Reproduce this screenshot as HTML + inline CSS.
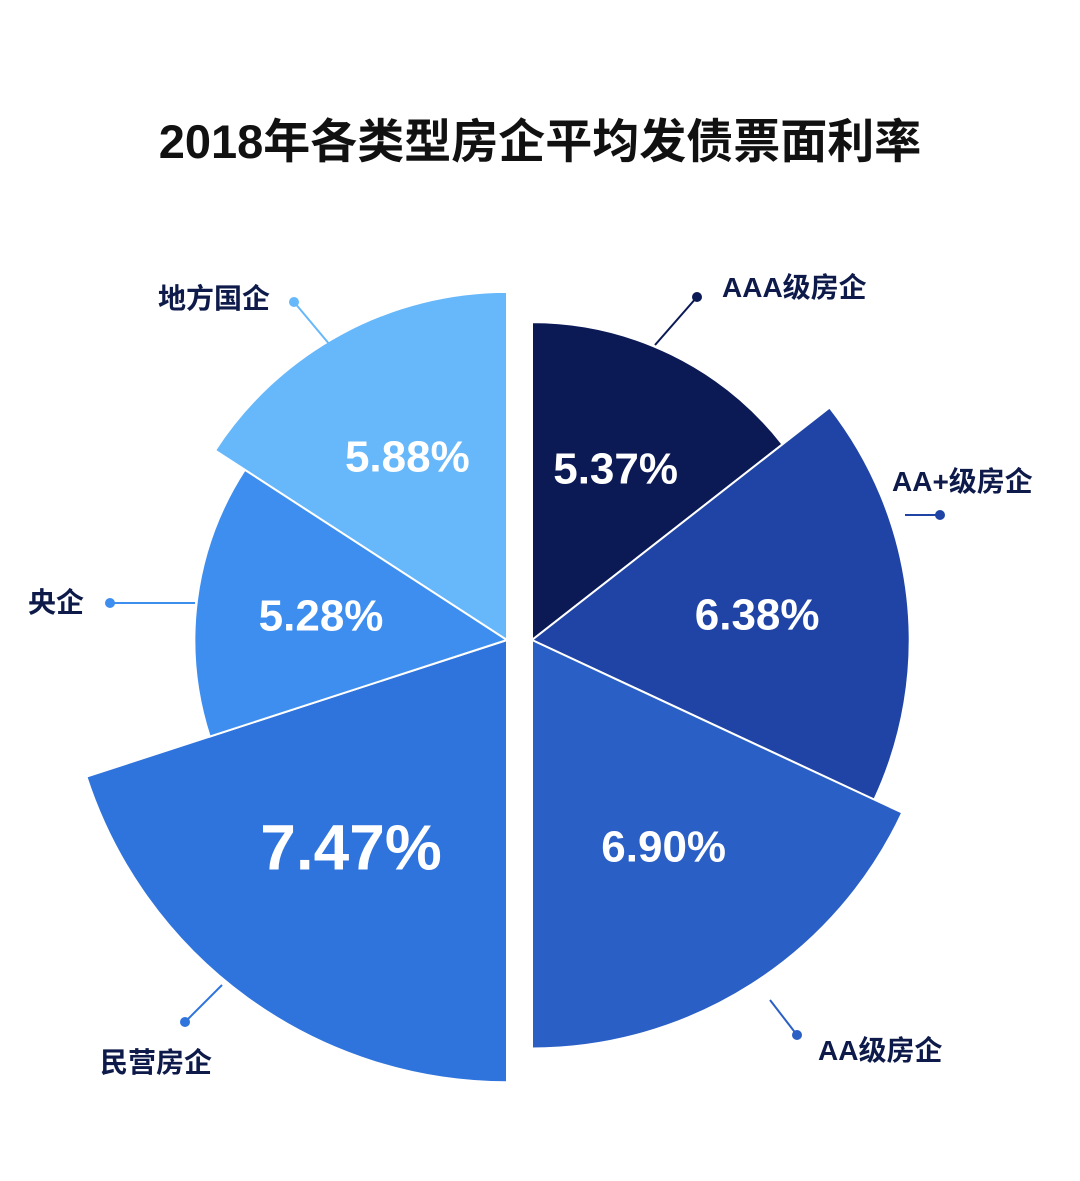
<!DOCTYPE html>
<html><head><meta charset="utf-8">
<style>
html,body{margin:0;padding:0;background:#fff;}
svg{display:block;}
text{font-family:"Liberation Sans","Noto Sans CJK SC",sans-serif;}
</style></head>
<body>
<svg id="chart" width="1080" height="1181" viewBox="0 0 1080 1181">
<text x="540" y="158" text-anchor="middle" font-size="47" font-weight="bold" fill="#111">2018年各类型房企平均发债票面利率</text>
<g id="sectors"></g>
<g id="labels"></g>
</svg>
<script>
const categories = ["AAA级房企","AA+级房企","AA级房企","民营房企","央企","地方国企"];
const values = [5.37, 6.38, 6.90, 7.47, 5.28, 5.88];
const valueLabels = ["5.37%","6.38%","6.90%","7.47%","5.28%","5.88%"];
const startAngles = [0, 52, 115, 180, 252, 303];
const endAngles = [52, 115, 180, 252, 303, 360];
const colors = ["#0b1a55","#1f44a6","#2a5fc6","#2f74dc","#3e8ef0","#66b8fb"];
const ns = "http://www.w3.org/2000/svg";
const cy = 640;
const scale = 59.2;
function cxFor(i){ return startAngles[i] < 180 ? 532 : 507; }
function rScale(v){ return v * scale; }
function pt(cx, r, deg){ const a = deg*Math.PI/180; return [cx + r*Math.sin(a), cy - r*Math.cos(a)]; }
const gS = document.getElementById('sectors');
const gL = document.getElementById('labels');
const labelStyle = [
 {text:[722,297], dot:[697,297], from:[655,345], anchor:"start"},
 {text:[892,491], dot:[940,515], from:[905,515], anchor:"start"},
 {text:[818,1060], dot:[797,1035], from:[770,1000], anchor:"start"},
 {text:[100,1072], dot:[185,1022], from:[222,985], anchor:"start"},
 {text:[28,612], dot:[110,603], from:[195,603], anchor:"start"},
 {text:[158,308], dot:[294,302], from:[330,345], anchor:"start"}
];
categories.forEach((c,i)=>{
  const cx = cxFor(i), r = rScale(values[i]);
  const p1 = pt(cx,r,startAngles[i]), p2 = pt(cx,r,endAngles[i]);
  const large = (endAngles[i]-startAngles[i])>180?1:0;
  const path = document.createElementNS(ns,'path');
  path.setAttribute('d',`M${cx},${cy} L${p1[0]},${p1[1]} A${r},${r} 0 ${large} 1 ${p2[0]},${p2[1]} Z`);
  path.setAttribute('fill',colors[i]);
  path.setAttribute('stroke','#fff');
  path.setAttribute('stroke-width','2');
  
  
  gS.appendChild(path);
  const mid = (startAngles[i]+endAngles[i])/2;
  const lp = pt(cx, r*0.6, mid);
  const t = document.createElementNS(ns,'text');
  t.setAttribute('x',lp[0]); t.setAttribute('y',lp[1]+15);
  t.setAttribute('text-anchor','middle');
  t.setAttribute('font-size', values[i]===Math.max(...values)?'64':'44');
  t.setAttribute('font-weight','bold');
  t.setAttribute('fill','#fff');
  t.textContent = valueLabels[i];
  
  
  gL.appendChild(t);
  const s = labelStyle[i];
  const ln = document.createElementNS(ns,'line');
  ln.setAttribute('x1',s.from[0]); ln.setAttribute('y1',s.from[1]);
  ln.setAttribute('x2',s.dot[0]); ln.setAttribute('y2',s.dot[1]);
  ln.setAttribute('stroke',colors[i]); ln.setAttribute('stroke-width','2');
  
  
  gL.appendChild(ln);
  const d = document.createElementNS(ns,'circle');
  d.setAttribute('cx',s.dot[0]); d.setAttribute('cy',s.dot[1]); d.setAttribute('r','5');
  d.setAttribute('fill',colors[i]);
  
  
  gL.appendChild(d);
  const ct = document.createElementNS(ns,'text');
  ct.setAttribute('x',s.text[0]); ct.setAttribute('y',s.text[1]);
  ct.setAttribute('font-size','28'); ct.setAttribute('font-weight','bold');
  ct.setAttribute('fill','#0d1a4a');
  ct.textContent = c;
  
  
  gL.appendChild(ct);
});
</script>
</body></html>
